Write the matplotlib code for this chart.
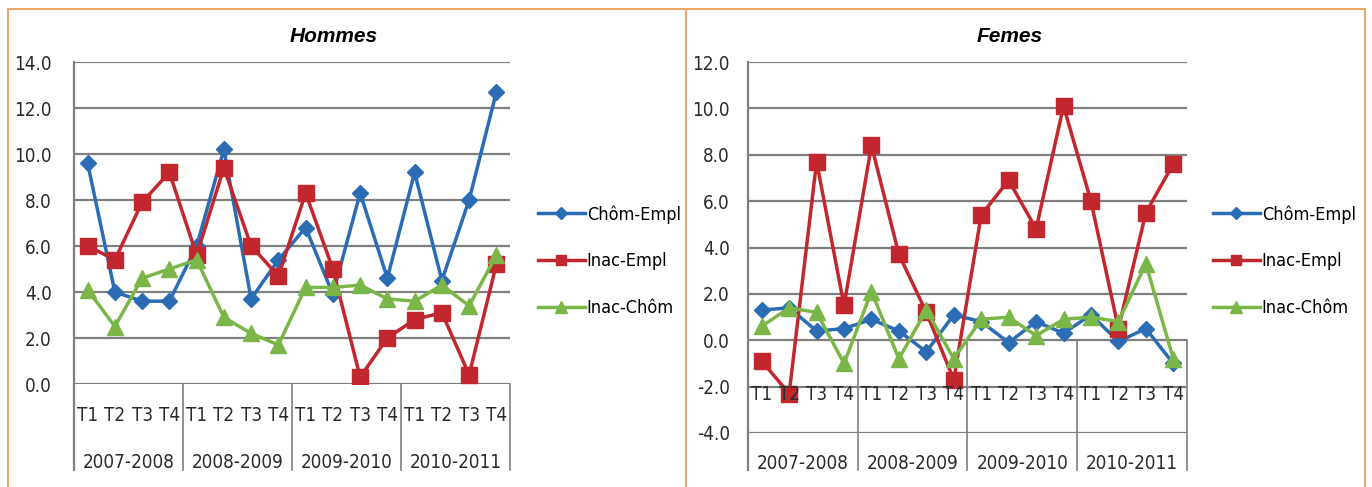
import matplotlib.pyplot as plt
from matplotlib.lines import Line2D

quarters = ['T1', 'T2', 'T3', 'T4'] * 4
years = ['2007-2008', '2008-2009', '2009-2010', '2010-2011']

# Hommes
h_chom_empl = [9.6, 4.0, 3.6, 3.6, 6.0, 10.2, 3.7, 5.4, 6.8, 3.9, 8.3, 4.6, 9.2, 4.5, 8.0, 12.7]
h_inac_empl = [6.0, 5.4, 7.9, 9.2, 5.6, 9.4, 6.0, 4.7, 8.3, 5.0, 0.3, 2.0, 2.8, 3.1, 0.4, 5.2]
h_inac_chom = [4.1, 2.5, 4.6, 5.0, 5.4, 2.9, 2.2, 1.7, 4.2, 4.2, 4.3, 3.7, 3.6, 4.3, 3.4, 5.6]

# Femes
f_chom_empl = [1.3, 1.4, 0.4, 0.5, 0.9, 0.4, -0.5, 1.1, 0.8, -0.1, 0.8, 0.3, 1.1, -0.05, 0.5, -1.0]
f_inac_empl = [-0.9, -2.3, 7.7, 1.5, 8.4, 3.7, 1.2, -1.7, 5.4, 6.9, 4.8, 10.1, 6.0, 0.5, 5.5, 7.6]
f_inac_chom = [0.6, 1.4, 1.2, -1.0, 2.1, -0.8, 1.3, -0.8, 0.9, 1.0, 0.2, 0.9, 1.0, 0.8, 3.3, -0.8]

labels = ['Chôm-Empl', 'Inac-Empl', 'Inac-Chôm']
colors = ['#2B6CB5', '#C1272D', '#7AB648']
markers = [('D', 8.5), ('s', 11), ('^', 12)]

tfont = dict(family='DejaVu Sans', stretch='condensed', size=13.5, color='#2A2A2A')
grid_c = '#7F7F7F'

W, H = 1372, 487
fig = plt.figure(figsize=(W / 100, H / 100), dpi=100)


def px_axes(x0, x1, ytop, ybot):
    return fig.add_axes([x0 / W, 1 - ybot / H, (x1 - x0) / W, (ybot - ytop) / H])


def draw(ax, series, ylim, yt, t_y, g_y, bottom, title, leg_x, pad):
    ax.set_xlim(0, 16)
    ax.set_ylim(*ylim)
    xs = [i + 0.5 for i in range(16)]
    for vals, lab, c, (m, ms) in zip(series, labels, colors, markers):
        ax.plot(xs, vals, color=c, lw=2.5, marker=m, ms=ms, label=lab, zorder=3)
    ax.set_yticks(yt)
    ax.set_yticklabels([f'{v:.1f}' for v in yt])
    for t in ax.get_yticklabels():
        t.set_fontfamily('DejaVu Sans')
        t.set_fontstretch('condensed')
        t.set_fontsize(13.5)
        t.set_color('#2A2A2A')
    ax.tick_params(axis='y', length=0, pad=pad)
    ax.set_xticks([])
    for s in ax.spines.values():
        s.set_visible(False)
    for v in yt:
        ax.axhline(v, color=grid_c, lw=1.6, zorder=1)
    # category axis
    ax.plot([0, 0], [bottom, ylim[1]], color=grid_c, lw=1.6, clip_on=False)
    for xb in [4, 8, 12, 16]:
        ax.plot([xb, xb], [bottom, 0], color=grid_c, lw=1.2, clip_on=False)
    for x, q in zip(xs, quarters):
        ax.text(x, t_y, q, ha='center', va='center', **tfont)
    for i, yr in enumerate(years):
        ax.text(4 * i + 2, g_y, yr, ha='center', va='center', **tfont)
    pos = ax.get_position()
    fig.text(pos.x0 + pos.width * 0.595, 1 - 37 / H, title,
             ha='center', va='center', fontsize=15, fontweight='bold', style='italic',
             family=['Liberation Sans', 'DejaVu Sans'])
    leg = ax.legend(loc='upper left', bbox_to_anchor=(leg_x / W, 1 - 205 / H), bbox_transform=fig.transFigure,
                    frameon=False, handlelength=2.6, handletextpad=0.1, labelspacing=1.6,
                    borderpad=0, borderaxespad=0,
                    prop={'family': 'DejaVu Sans', 'stretch': 'condensed', 'size': 13})
    for h in leg.legend_handles:
        h.set_markersize(h.get_markersize() * 0.7)


ax1 = px_axes(74, 510, 62, 384)
draw(ax1, [h_chom_empl, h_inac_empl, h_inac_chom], (0, 14), list(range(0, 15, 2)),
     -1.35, -3.4, -3.74, 'Hommes', 538, 16)

ax2 = px_axes(748, 1187, 62, 433)
draw(ax2, [f_chom_empl, f_inac_empl, f_inac_chom], (-4, 12), list(range(-4, 13, 2)),
     -2.35, -5.3, -5.6, 'Femes', 1213, 13)

# orange panel frames
orange = '#E9A86A'
for seg in [([8, 1365], [9, 9]), ([8, 8], [9, 487]), ([686, 686], [9, 487]), ([1365, 1365], [9, 487])]:
    fig.add_artist(Line2D([p / W for p in seg[0]], [1 - p / H for p in seg[1]], color=orange, lw=1.5))

fig.savefig('out.png', dpi=100)
